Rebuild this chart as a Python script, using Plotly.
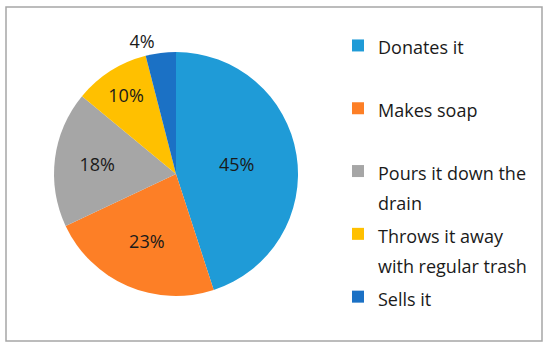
import plotly.graph_objects as go

labels = ["Donates it", "Makes soap", "Pours it down the drain",
          "Throws it away with regular trash", "Sells it"]
legend_text = ["Donates it", "Makes soap", "Pours it down the<br>drain",
               "Throws it away<br>with regular trash", "Sells it"]
values = [45, 23, 18, 10, 4]
colors = ["#1f9bd7", "#fd7f26", "#a6a6a6", "#ffc000", "#1b71c5"]
text_pos = ["inside", "inside", "inside", "inside", "outside"]

# pad every legend entry to two lines so the items are spaced evenly
legend_labels = []
for t in legend_text:
    if "<br>" not in t:
        t = t + "<br> "
    legend_labels.append('<span style="font-size:18px">' + t + "</span>")

fig = go.Figure(
    go.Pie(
        labels=legend_labels,
        values=values,
        sort=False,
        direction="clockwise",
        rotation=0,
        marker=dict(colors=colors, line=dict(width=0)),
        textinfo="percent",
        texttemplate="%{percent:.0%}",
        textposition=text_pos,
        insidetextorientation="horizontal",
        textfont=dict(family="Open Sans", size=18, color="#1a1a1a"),
        customdata=labels,
        hovertemplate="%{customdata}: %{percent}<extra></extra>",
        domain=dict(x=[54 / 550, 298 / 550], y=[52 / 348, 296 / 348]),
    )
)

fig.add_shape(
    type="rect", xref="paper", yref="paper",
    x0=6 / 550, x1=542 / 550, y0=1 - 341 / 348, y1=1 - 7 / 348,
    line=dict(color="#a6a6a6", width=1.5),
)

fig.update_layout(
    width=550,
    height=348,
    margin=dict(l=0, r=0, t=0, b=0),
    paper_bgcolor="#fff",
    plot_bgcolor="#fff",
    font=dict(family="Open Sans", color="#1a1a1a"),
    legend=dict(
        x=338 / 550, y=1 - 32 / 348, xanchor="left", yanchor="top",
        font=dict(family="Open Sans", size=23, color="#1a1a1a"),
        valign="top",
        bgcolor="rgba(0,0,0,0)",
    ),
)

# drop the default body margin so the figure sits at the page corner
fig.write_html(
    "out.html",
    config={"displayModeBar": False},
    post_script="document.body.style.margin='0';",
)
